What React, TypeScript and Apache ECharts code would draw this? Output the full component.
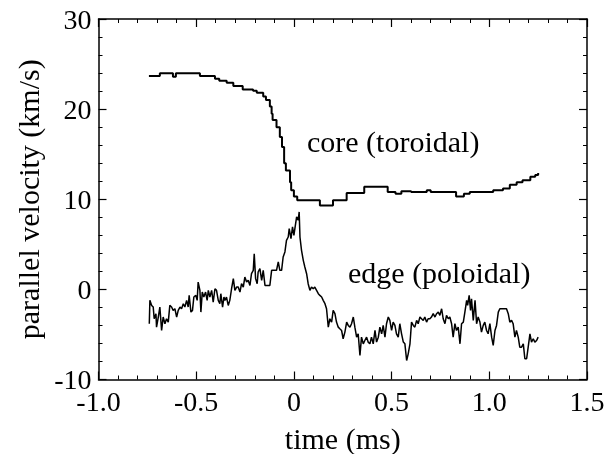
import React, { useEffect, useRef } from "react";
import * as echarts from "echarts";

const xTicks = [-1.0, -0.5, 0, 0.5, 1.0, 1.5];
const yTicks = [-10, 0, 10, 20, 30];

// core (toroidal) velocity, stepwise: [time ms, km/s]
const coreTime = [
  -0.742, -0.686, -0.619, -0.604, -0.481, -0.404, -0.382, -0.344, -0.31, -0.262,
  -0.209, -0.19, -0.157, -0.143, -0.123, -0.114, -0.109, -0.089, -0.072, -0.061,
  -0.05, -0.041, -0.02, -0.014, 0.0, 0.017, 0.133, 0.2, 0.27, 0.36,
  0.48, 0.52, 0.55, 0.6, 0.68, 0.7, 0.83, 0.87, 0.9, 1.02,
  1.04, 1.07, 1.105, 1.14, 1.17, 1.21, 1.235, 1.25,
];
const coreVel = [
  23.67, 23.97, 23.59, 23.97, 23.67, 23.37, 23.14, 22.92, 22.56, 22.19,
  22.03, 21.81, 21.4, 21.0, 20.3, 19.5, 18.8, 18.0, 16.9, 15.8,
  14.0, 13.2, 11.9, 11.0, 10.3, 9.9, 9.3, 9.9, 10.7, 11.4,
  10.8, 10.6, 10.9, 10.8, 11.0, 10.8, 10.3, 10.6, 10.8, 11.0,
  11.0, 11.2, 11.6, 11.9, 12.1, 12.5, 12.7, 12.9,
];

// edge (poloidal) velocity: [time ms, km/s]
const edgeTime = [
  -0.74, -0.737, -0.728, -0.72, -0.715, -0.706, -0.703, -0.694, -0.686, -0.677,
  -0.669, -0.66, -0.652, -0.643, -0.635, -0.626, -0.618, -0.609, -0.6, -0.592,
  -0.583, -0.575, -0.566, -0.558, -0.549, -0.541, -0.536, -0.527, -0.519, -0.512,
  -0.502, -0.495, -0.49, -0.481, -0.476, -0.469, -0.461, -0.452, -0.444, -0.438,
  -0.43, -0.421, -0.413, -0.404, -0.396, -0.387, -0.379, -0.374, -0.365, -0.358,
  -0.353, -0.345, -0.336, -0.328, -0.319, -0.31, -0.302, -0.293, -0.285, -0.276,
  -0.268, -0.259, -0.251, -0.242, -0.234, -0.225, -0.217, -0.208, -0.203, -0.196,
  -0.188, -0.183, -0.174, -0.165, -0.157, -0.148, -0.14, -0.131, -0.123, -0.114,
  -0.106, -0.097, -0.089, -0.08, -0.072, -0.063, -0.055, -0.046, -0.038, -0.029,
  -0.024, -0.015, -0.007, 0.0, 0.005, 0.014, 0.022, 0.027, 0.031, 0.039,
  0.048, 0.056, 0.065, 0.073, 0.082, 0.09, 0.099, 0.107, 0.116, 0.125,
  0.133, 0.142, 0.15, 0.159, 0.167, 0.176, 0.184, 0.193, 0.201, 0.21,
  0.218, 0.227, 0.235, 0.244, 0.252, 0.261, 0.27, 0.278, 0.287, 0.295,
  0.304, 0.312, 0.321, 0.329, 0.338, 0.346, 0.355, 0.363, 0.372, 0.38,
  0.389, 0.397, 0.406, 0.415, 0.423, 0.432, 0.44, 0.449, 0.457, 0.466,
  0.474, 0.483, 0.491, 0.5, 0.508, 0.517, 0.525, 0.534, 0.542, 0.551,
  0.56, 0.568, 0.577, 0.585, 0.594, 0.602, 0.611, 0.619, 0.628, 0.636,
  0.645, 0.653, 0.662, 0.67, 0.679, 0.687, 0.696, 0.704, 0.713, 0.722,
  0.73, 0.739, 0.747, 0.756, 0.764, 0.773, 0.781, 0.79, 0.798, 0.807,
  0.815, 0.824, 0.832, 0.841, 0.85, 0.858, 0.867, 0.875, 0.884, 0.889,
  0.897, 0.904, 0.909, 0.918, 0.927, 0.935, 0.943, 0.952, 0.96, 0.969,
  0.977, 0.986, 0.994, 1.003, 1.012, 1.02, 1.029, 1.037, 1.046, 1.054,
  1.071, 1.088, 1.097, 1.105, 1.114, 1.122, 1.131, 1.139, 1.148, 1.156,
  1.165, 1.174, 1.182, 1.191, 1.199, 1.208, 1.216, 1.225, 1.233, 1.242,
  1.25,
];
const edgeVel = [
  -3.81, -1.22, -1.78, -1.96, -3.26, -2.7, -4.19, -3.07, -1.96, -4.56,
  -3.07, -3.81, -3.26, -3.63, -1.78, -1.96, -2.33, -2.15, -3.07, -2.33,
  -1.96, -2.15, -1.59, -1.96, -1.22, -1.96, -0.67, -2.52, -2.33, -0.85,
  -0.67, -1.22, 0.81, -0.11, -2.52, -0.3, -0.85, -0.3, -1.22, -0.11,
  -0.85, -0.11, -1.41, 0.07, -0.11, -1.22, -1.59, -0.48, -1.96, -0.85,
  -1.22, -0.85, -1.78, -1.22, 0.07, 1.19, -0.11, 0.26, 0.26, -0.3,
  0.63, 0.26, 1.37, 0.81, 1.0, 0.44, 1.74, 2.11, 3.96, 1.19,
  0.63, 1.93, 2.3, 1.0, 2.11, 0.44, 0.44, 0.44, 0.44, 2.11,
  2.11, 2.11, 2.11, 3.04, 2.11, 2.11, 3.59, 4.15, 5.44, 5.81,
  6.74, 5.63, 6.93, 6.0, 6.74, 8.04, 7.67, 8.59, 5.81, 4.33,
  3.22, 2.48, 1.74, 0.63, -0.11, 0.26, 0.07, 0.26, -0.11, -0.48,
  -0.67, -0.85, -1.22, -1.59, -2.15, -4.19, -3.26, -3.63, -2.33, -2.7,
  -3.63, -4.19, -4.37, -4.56, -5.48, -4.74, -3.63, -4.0, -4.19, -3.81,
  -3.07, -4.19, -5.3, -4.93, -7.33, -5.3, -6.04, -5.67, -5.3, -5.85,
  -6.04, -5.3, -6.04, -4.56, -5.85, -5.3, -4.19, -4.93, -4.0, -5.3,
  -3.81, -3.07, -3.44, -4.56, -3.63, -4.0, -4.93, -5.3, -3.81, -4.93,
  -5.85, -6.04, -7.89, -7.15, -6.04, -3.63, -4.0, -4.19, -3.44, -3.81,
  -3.07, -3.26, -3.44, -3.07, -3.63, -3.26, -3.26, -3.07, -2.7, -3.07,
  -2.7, -2.52, -2.89, -2.15, -3.26, -3.81, -2.89, -3.26, -3.07, -3.81,
  -5.3, -3.81, -4.56, -4.19, -6.04, -3.81, -3.63, -2.52, -1.22, -1.78,
  -0.67, -2.33, -1.04, -3.44, -1.22, -3.81, -3.07, -3.63, -4.74, -4.0,
  -3.63, -4.56, -4.93, -3.81, -5.3, -6.22, -4.56, -4.0, -2.52, -2.15,
  -2.15, -2.15, -2.7, -3.63, -3.44, -3.81, -5.3, -4.56, -5.3, -6.41,
  -6.41, -6.04, -7.7, -7.7, -6.41, -4.93, -5.85, -5.48, -5.85, -5.67,
  -5.3,
];

const FONT = "Liberation Serif";

export default function App() {
  const ref = useRef<HTMLDivElement>(null);
  useEffect(() => {
    if (!ref.current) return;
    const chart = echarts.init(ref.current, null, { renderer: "svg" });
    const tickCommon = {
      axisLine: { show: true, onZero: false, lineStyle: { color: "#000", width: 1.5 } },
      axisTick: { show: true, inside: true, length: 8, lineStyle: { color: "#000", width: 1.2 } },
      minorTick: { show: true, splitNumber: 5, length: 4, lineStyle: { color: "#000", width: 1 } },
      splitLine: { show: false },
      minorSplitLine: { show: false },
    };
    const fmtX = (v: number) => (v === 0 ? "0" : v.toFixed(1));
    chart.setOption({
      animation: false,
      grid: { left: 98.5, right: 25, top: 19, bottom: 74.5, outerBoundsMode: "none" },
      xAxis: [
        {
          type: "value",
          min: xTicks[0],
          max: xTicks[xTicks.length - 1],
          interval: 0.5,
          position: "bottom",
          ...tickCommon,
          axisLabel: { fontFamily: FONT, fontSize: 28, lineHeight: 20, color: "#000", margin: 11.5, formatter: fmtX },
          name: "time (ms)",
          nameLocation: "middle",
          nameGap: 46,
          nameTextStyle: { fontFamily: FONT, fontSize: 30, lineHeight: 26, color: "#000" },
        },
        {
          type: "value",
          min: xTicks[0],
          max: xTicks[xTicks.length - 1],
          interval: 0.5,
          position: "top",
          ...tickCommon,
          axisLabel: { show: false },
        },
      ],
      yAxis: [
        {
          type: "value",
          min: yTicks[0],
          max: yTicks[yTicks.length - 1],
          interval: 10,
          position: "left",
          ...tickCommon,
          axisLabel: { fontFamily: FONT, fontSize: 28, lineHeight: 20, color: "#000", margin: 7 },
          name: "parallel velocity (km/s)",
          nameLocation: "middle",
          nameGap: 52,
          nameTextStyle: { fontFamily: FONT, fontSize: 30, color: "#000" },
        },
        {
          type: "value",
          min: yTicks[0],
          max: yTicks[yTicks.length - 1],
          interval: 10,
          position: "right",
          ...tickCommon,
          axisLabel: { show: false },
        },
      ],
      series: [
        {
          type: "line",
          name: "core (toroidal)",
          step: "end",
          showSymbol: false,
          symbol: "none",
          lineStyle: { color: "#000", width: 2 },
          data: coreTime.map((t, i) => [t, coreVel[i]]),
        },
        {
          type: "line",
          name: "edge (poloidal)",
          showSymbol: false,
          symbol: "none",
          lineStyle: { color: "#000", width: 1.5 },
          data: edgeTime.map((t, i) => [t, edgeVel[i]]),
        },
      ],
      graphic: [
        {
          type: "text",
          x: 307,
          y: 126,
          style: { text: "core (toroidal)", fontFamily: FONT, fontSize: 30, fill: "#000" },
        },
        {
          type: "text",
          x: 348,
          y: 257,
          style: { text: "edge (poloidal)", fontFamily: FONT, fontSize: 30, fill: "#000" },
        },
      ],
    });
    return () => chart.dispose();
  }, []);
  return <div ref={ref} style={{ width: 612, height: 454, position: "fixed", left: 0, top: 0 }} />;
}
